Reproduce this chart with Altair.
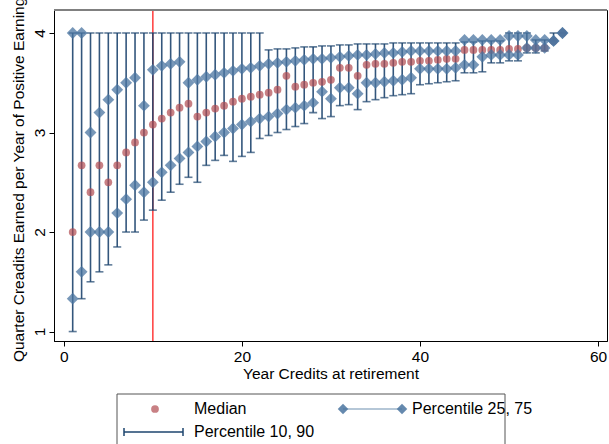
import altair as alt
import pandas as pd

# ---- data ----
years = [1, 2, 3, 4, 5, 6, 7, 8, 9, 10, 11, 12, 13, 14, 15, 16, 17, 18, 19, 20,
         21, 22, 23, 24, 25, 26, 27, 28, 29, 30, 31, 32, 33, 34, 35, 36, 37, 38, 39, 40,
         41, 42, 43, 44, 45, 46, 47, 48, 49, 50, 51, 52, 53, 54, 55, 56]

p90 = [4.0, 4.0, 4.0, 4.0, 4.0, 4.0, 4.0, 4.0, 4.0, 4.0, 4.0, 4.0, 4.0, 4.0, 4.0, 4.0, 4.0, 4.0, 4.0, 4.0,
       4.0, 4.0, 3.83, 3.84, 3.84, 3.85, 3.86, 3.86, 3.87, 3.87, 3.88, 3.88, 3.89, 3.89, 3.89, 3.89, 3.90, 3.90, 3.90, 3.90,
       3.90, 3.90, 3.90, 3.90, 3.91, 3.91, 3.92, 3.92, 3.92, 4.0, 4.0, 4.0, 3.93, 3.93, 4.0, 4.0]

p75 = [4.0, 4.0, 3.0, 3.2, 3.33, 3.43, 3.5, 3.55, 3.27, 3.63, 3.67, 3.69, 3.71, 3.5, 3.53, 3.56, 3.58, 3.6, 3.62, 3.64,
       3.65, 3.67, 3.69, 3.70, 3.71, 3.72, 3.73, 3.74, 3.74, 3.75, 3.76, 3.77, 3.78, 3.78, 3.79, 3.80, 3.80, 3.81, 3.82, 3.82,
       3.82, 3.82, 3.82, 3.82, 3.93, 3.93, 3.93, 3.93, 3.93, 3.97, 3.97, 3.97, 3.93, 3.93, 3.92, 4.0]

median = [2.0, 2.67, 2.4, 2.67, 2.5, 2.67, 2.8, 2.9, 3.0, 3.08, 3.14, 3.2, 3.25, 3.29, 3.16, 3.2, 3.24, 3.27, 3.31, 3.34,
          3.36, 3.38, 3.40, 3.43, 3.57, 3.46, 3.48, 3.50, 3.51, 3.53, 3.65, 3.65, 3.57, 3.68, 3.69, 3.69, 3.70, 3.71, 3.71, 3.72,
          3.72, 3.73, 3.74, 3.74, 3.83, 3.83, 3.83, 3.83, 3.83, 3.84, 3.84, 3.85, 3.85, 3.85, 3.92, 4.0]

p25 = [1.33, 1.6, 2.0, 2.0, 2.0, 2.19, 2.33, 2.47, 2.4, 2.5, 2.6, 2.67, 2.74, 2.8, 2.86, 2.91, 2.96, 3.0, 3.04, 3.08,
       3.11, 3.14, 3.16, 3.19, 3.23, 3.25, 3.27, 3.30, 3.41, 3.34, 3.45, 3.45, 3.39, 3.50, 3.50, 3.51, 3.52, 3.53, 3.55, 3.64,
       3.64, 3.64, 3.64, 3.65, 3.68, 3.68, 3.76, 3.78, 3.78, 3.78, 3.78, 3.85, 3.85, 3.85, 3.92, 4.0]

p10 = [1.0, 1.33, 1.5, 1.6, 1.67, 1.85, 2.0, 2.0, 2.12, 2.22, 2.32, 2.4, 2.48, 2.55, 2.5, 2.67, 2.72, 2.77, 2.71, 2.76,
       2.80, 2.94, 2.97, 3.0, 3.03, 3.06, 3.09, 3.20, 3.14, 3.16, 3.27, 3.28, 3.23, 3.31, 3.33, 3.35, 3.37, 3.38, 3.39, 3.48,
       3.49, 3.50, 3.51, 3.52, 3.60, 3.60, 3.61, 3.70, 3.70, 3.72, 3.72, 3.80, 3.80, 3.82, 3.92, 4.0]

cutoff_year = [10]
x_ticks = [0, 20, 40, 60]
y_ticks = [1, 2, 3, 4]
legend_labels = ["Median", "Percentile 25, 75", "Percentile 10, 90"]
x_title = "Year Credits at retirement"
y_title = "Quarter Creadits Earned per Year of Positive Earnings"

df = pd.DataFrame({"year": years, "p10": p10, "p25": p25, "median": median,
                   "p75": p75, "p90": p90})
df_long = pd.DataFrame({"year": years + years, "q": p25 + p75})
df_cut = pd.DataFrame({"year": cutoff_year})
one = pd.DataFrame({"k": [0]})

FONT = "Liberation Sans"
BAR = "#1d446e"
DIAM = "#4a74a0"
RED = "#b04a50"
W, H = 553, 331

xs = alt.Scale(domain=[-1.1, 61], nice=False, zero=False)
ys = alt.Scale(domain=[0.905, 4.231], nice=False, zero=False)

xenc = alt.X("year:Q", scale=xs,
             axis=alt.Axis(values=x_ticks, format="d", title=x_title, grid=False, domainColor="black",
                           tickColor="black", tickSize=5, labelFontSize=15.5, titleFontSize=15.5,
                           labelColor="black", titleColor="black", labelFont=FONT, titleFont=FONT,
                           titleFontWeight="normal", labelPadding=3, titlePadding=2,
                           labelFlush=False))

cut = alt.Chart(df_cut).mark_rule(color="#ff3b3b", strokeWidth=1.5).encode(
    x=alt.X("year:Q", scale=xs))

bars = alt.Chart(df).mark_rule(color=BAR, strokeWidth=1.6, opacity=0.9).encode(
    x=xenc,
    y=alt.Y("p10:Q", scale=ys,
            axis=alt.Axis(values=y_ticks, format="d", title=y_title, grid=False, domainColor="black",
                          tickColor="black", tickSize=5, labelFontSize=15.5, titleFontSize=15.5,
                          labelColor="black", titleColor="black", labelFont=FONT, titleFont=FONT,
                          titleFontWeight="normal", labelAngle=270, labelAlign="center",
                          labelBaseline="bottom", labelPadding=2, titlePadding=6)),
    y2="p90:Q")

cap_lo = alt.Chart(df).mark_tick(color=BAR, orient="horizontal", size=8, thickness=1.6).encode(
    x=alt.X("year:Q", scale=xs), y=alt.Y("p10:Q", scale=ys))
cap_hi = alt.Chart(df).mark_tick(color=BAR, orient="horizontal", size=8, thickness=1.6).encode(
    x=alt.X("year:Q", scale=xs), y=alt.Y("p90:Q", scale=ys))

med = alt.Chart(df).mark_point(shape="circle", filled=True, size=60, color=RED, opacity=0.7).encode(
    x=alt.X("year:Q", scale=xs), y=alt.Y("median:Q", scale=ys))

diam = alt.Chart(df_long).mark_point(shape="diamond", filled=True, size=140, color=DIAM,
                                     opacity=0.75).encode(
    x=alt.X("year:Q", scale=xs), y=alt.Y("q:Q", scale=ys))

top_line = alt.Chart(one).mark_rule(color="#808080", strokeWidth=2).encode(
    x=alt.value(0), x2=alt.value(W), y=alt.value(0))

# ---- legend (drawn below the plot area) ----
base = alt.Chart(one)
lg_box = base.mark_rect(fill="white", stroke="#555555", strokeWidth=1).encode(
    x=alt.value(63), x2=alt.value(451), y=alt.value(384), y2=alt.value(460))
lg_med = base.mark_point(shape="circle", filled=True, size=60, color=RED, opacity=0.7).encode(
    x=alt.value(101), y=alt.value(399))
lg_t1 = base.mark_text(align="left", baseline="middle", font=FONT, fontSize=16, color="black").encode(
    x=alt.value(140), y=alt.value(399), text=alt.value(legend_labels[0]))
lg_dl = base.mark_rule(color="#6d8fb0", strokeWidth=1.2).encode(
    x=alt.value(289), x2=alt.value(348), y=alt.value(399))
lg_d1 = base.mark_point(shape="diamond", filled=True, size=110, color=DIAM, opacity=0.85).encode(
    x=alt.value(289), y=alt.value(399))
lg_d2 = base.mark_point(shape="diamond", filled=True, size=110, color=DIAM, opacity=0.85).encode(
    x=alt.value(348), y=alt.value(399))
lg_t2 = base.mark_text(align="left", baseline="middle", font=FONT, fontSize=16, color="black").encode(
    x=alt.value(358), y=alt.value(399), text=alt.value(legend_labels[1]))
lg_cl = base.mark_rule(color=BAR, strokeWidth=1.5).encode(
    x=alt.value(70), x2=alt.value(129), y=alt.value(422))
lg_c1 = base.mark_rule(color=BAR, strokeWidth=1.5).encode(
    x=alt.value(70), y=alt.value(418), y2=alt.value(426))
lg_c2 = base.mark_rule(color=BAR, strokeWidth=1.5).encode(
    x=alt.value(129), y=alt.value(418), y2=alt.value(426))
lg_t3 = base.mark_text(align="left", baseline="middle", font=FONT, fontSize=16, color="black").encode(
    x=alt.value(140), y=alt.value(422), text=alt.value(legend_labels[2]))

chart = alt.layer(
    cut, bars, cap_lo, cap_hi, med, diam, top_line,
    lg_box, lg_med, lg_t1, lg_dl, lg_d1, lg_d2, lg_t2, lg_cl, lg_c1, lg_c2, lg_t3
).properties(
    width=W, height=H,
    autosize=alt.AutoSizeParams(type="none"),
    padding={"left": 54, "top": 10, "right": 2, "bottom": 103},
    background="white"
).configure_view(stroke="black", strokeWidth=1)

chart.save("out.html", embed_options={"renderer": "svg", "actions": False})
